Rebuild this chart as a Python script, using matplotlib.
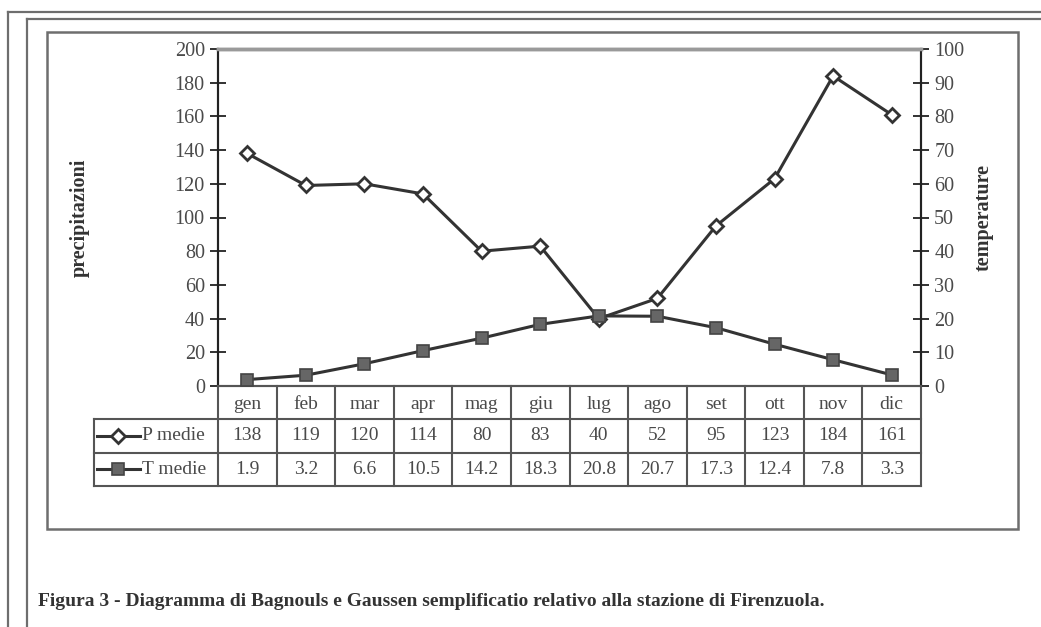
import matplotlib.pyplot as plt
from matplotlib.lines import Line2D
from matplotlib.patches import Rectangle

plt.rcParams['font.family'] = ['Liberation Serif', 'DejaVu Serif']

months = ["gen", "feb", "mar", "apr", "mag", "giu", "lug", "ago", "set", "ott", "nov", "dic"]
p_medie = [138, 119, 120, 114, 80, 83, 40, 52, 95, 123, 184, 161]
t_medie = [1.9, 3.2, 6.6, 10.5, 14.2, 18.3, 20.8, 20.7, 17.3, 12.4, 7.8, 3.3]
p_ticks = list(range(0, 201, 20))
t_ticks = list(range(0, 101, 10))
caption = "Figura 3 - Diagramma di Bagnouls e Gaussen semplificatio relativo alla stazione di Firenzuola."

W, H = 1041, 627
fig = plt.figure(figsize=(W / 100, H / 100), dpi=100)
fig.patch.set_facecolor("white")

def fx(px):
    return px / W

def fy(py):
    return 1 - py / H

frame_col = "#6e6e6e"
# page frames (open at right and bottom)
for x0, y0 in [(8, 12), (27, 19)]:
    fig.add_artist(Line2D([fx(x0), fx(x0)], [fy(y0), 0], color=frame_col, lw=1.6))
    fig.add_artist(Line2D([fx(x0), 1], [fy(y0), fy(y0)], color=frame_col, lw=1.6))
# chart box
fig.add_artist(Rectangle((fx(47), fy(529)), fx(1018) - fx(47), fy(32) - fy(529),
                         fill=False, ec=frame_col, lw=1.8))

# main plot
L, R, T, B = 218, 921, 49, 386
ax = fig.add_axes([fx(L), fy(B), fx(R) - fx(L), fy(T) - fy(B)])
ax2 = ax.twinx()
x = list(range(len(months)))
ax.set_xlim(-0.5, len(months) - 0.5)
ax.set_ylim(0, 200)
ax2.set_ylim(0, 100)
ax.set_yticks(p_ticks)
ax2.set_yticks(t_ticks)
ax.set_xticks([])

line_col = "#333333"
ax.plot(x, p_medie, color=line_col, lw=2.2, marker="D", ms=7.5,
        mfc="white", mec=line_col, mew=2, zorder=5, clip_on=False)
ax2.plot(x, t_medie, color=line_col, lw=2.2, marker="s", ms=8.5,
         mfc="#666666", mec="#444444", mew=1.2, zorder=5, clip_on=False)

for a in (ax, ax2):
    a.spines["top"].set_color("#9a9a9a")
    a.spines["top"].set_linewidth(2.5)
    a.spines["bottom"].set_color("#555555")
    a.spines["bottom"].set_linewidth(1.5)
    a.spines["left"].set_color("#222222")
    a.spines["left"].set_linewidth(1.5)
    a.spines["right"].set_color("#222222")
    a.spines["right"].set_linewidth(1.5)
    a.tick_params(axis="y", direction="inout", length=11, width=1.3,
                  color="#222222", labelsize=14.5, labelcolor="#4a4a4a", pad=4)
ax.patch.set_alpha(0)

fig.text(fx(80), fy(218), "precipitazioni", rotation=90, ha="center", va="center",
         fontsize=14.5, fontweight="bold", color="#333333")
fig.text(fx(984), fy(217), "temperature", rotation=90, ha="center", va="center",
         fontsize=14.5, fontweight="bold", color="#333333")

# data table below the plot
TL, TB = 94, 486
cw = (R - L) / len(months)
lab_w = (L - TL) / cw
tax = fig.add_axes([fx(TL), fy(TB), fx(R) - fx(TL), fy(B) - fy(TB)])
x0 = -0.5 - lab_w
tax.set_xlim(x0, len(months) - 0.5)
tax.set_ylim(0, 3)
tax.axis("off")

def col(px):
    return -0.5 + (px - L) / cw

grid_col = "#555555"
for i in range(len(months) + 1):
    tax.plot([i - 0.5, i - 0.5], [0, 3], color=grid_col, lw=1.5, clip_on=False)
tax.plot([x0, x0], [0, 2], color=grid_col, lw=1.5, clip_on=False)
for yy in [0, 1, 2]:
    tax.plot([x0, len(months) - 0.5], [yy, yy], color=grid_col, lw=1.5, clip_on=False)

txt_kw = dict(ha="center", va="center", fontsize=14, color="#4a4a4a")
for i, m in enumerate(months):
    tax.text(i, 2.45, m, **txt_kw)
    tax.text(i, 1.5, str(p_medie[i]), **txt_kw)
    tax.text(i, 0.5, f"{t_medie[i]:.1f}", **txt_kw)

# legend keys in row labels
tax.plot([col(97), col(140)], [1.5, 1.5], color=line_col, lw=2.2)
tax.plot([col(118)], [1.5], marker="D", ms=7.5, mfc="white", mec=line_col, mew=2, color=line_col)
tax.plot([col(97), col(140)], [0.5, 0.5], color=line_col, lw=2.2)
tax.plot([col(118)], [0.5], marker="s", ms=8.5, mfc="#666666", mec="#444444", mew=1.2)
tax.text(col(142), 1.5, "P medie", ha="left", va="center", fontsize=14, color="#4a4a4a")
tax.text(col(142), 0.5, "T medie", ha="left", va="center", fontsize=14, color="#4a4a4a")

fig.text(fx(38), fy(602), caption, ha="left", va="center", fontsize=14,
         fontweight="bold", color="#333333")

fig.savefig("out.png", dpi=100, facecolor="white")
